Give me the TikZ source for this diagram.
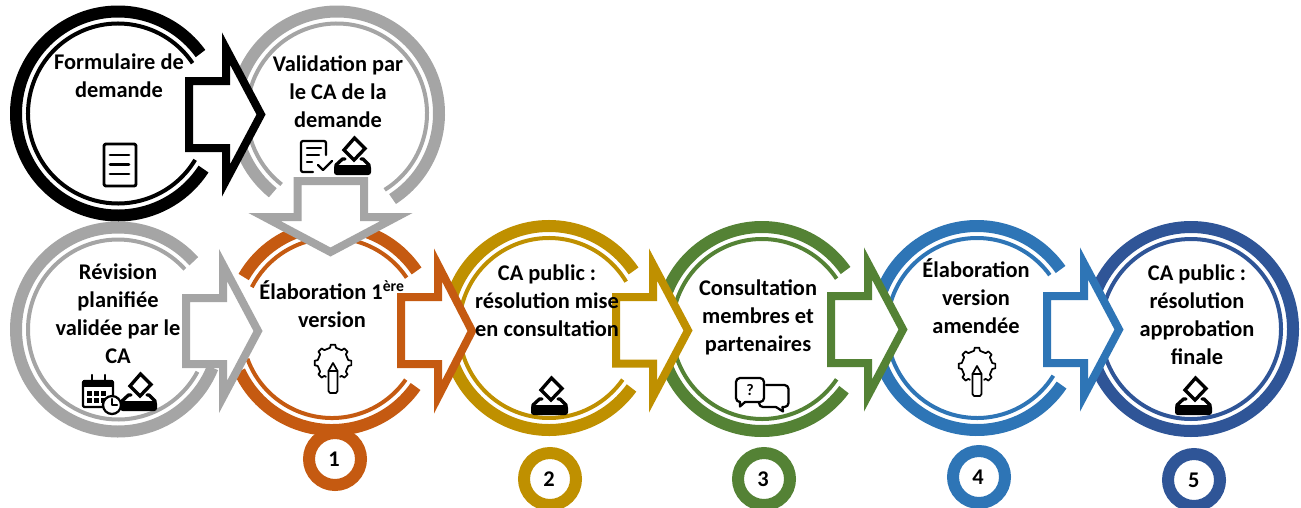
\documentclass[tikz,border=0pt]{standalone}
\usepackage{fontspec}
\setmainfont{Carlito}
\definecolor{cblack}{RGB}{0,0,0}
\definecolor{cgrey}{RGB}{165,165,165}
\definecolor{corange}{RGB}{197,90,17}
\definecolor{cgold}{RGB}{191,144,0}
\definecolor{cgreen}{RGB}{84,130,53}
\definecolor{cblue}{RGB}{46,117,182}
\definecolor{cnavy}{RGB}{47,85,151}
\tikzset{
  thickring/.style={line width=9pt},
  thinring/.style={line width=3pt},
  blockarrow/.style={line width=6pt,fill=white,miter limit=12},
  steplabel/.style={font=\fontsize{16.8}{21}\selectfont\bfseries,align=center,inner sep=0pt},
  numcircle/.style={circle,line width=9pt,minimum size=39pt,inner sep=0pt,fill=white,font=\fontsize{16.8}{21}\selectfont\bfseries},
  iconline/.style={line width=1.7pt,line join=round,line cap=round},
  ballot/.pic={
    \draw [iconline,line width=2.5pt,line join=miter,fill=white] (2.5,-37) -- (13,-26.5) -- (2,-15) -- (-8,-25) -- cycle;
    \draw [iconline,line width=2.5pt] (-16,-8) -- (-16,-10) -- (-9.5,-16) -- (-7,-16);
    \draw [iconline,line width=2.5pt] (9,-16) -- (11,-16) -- (17,-10) -- (17,-8);
    \fill [rounded corners=2pt] (-18,-10) rectangle (19,0);
  },
  gearpencil/.pic={
    \draw [iconline,line width=1.3pt] (-243:15.5) \foreach \a in {-225,-180,-135,-90,-45,0,45} { -- (\a-11:15.5) -- (\a-7:18.5) -- (\a+7:18.5) -- (\a+11:15.5) } -- (63:15.5);
    \draw [iconline,line width=1.3pt] (-4.5,8) -- (0,0) -- (4.5,8) -- (4.5,28) -- (3,30) -- (-3,30) -- (-4.5,28) -- cycle;
    \draw [iconline,line width=1.3pt] (-4.5,8) -- (4.5,8);
  }
}
\begin{document}
\begin{tikzpicture}[x=0.75pt,y=0.75pt,yscale=-1,xscale=1]
\useasboundingbox (0,0) rectangle (1301,507);

%Rings
\draw [thickring,cblack] (118,113.5) ++(-36:102) arc (-36:-327:102);
\draw [thinring,cblack] (118,113.5) ++(-34:90) arc (-34:-329:90);
\draw [thickring,cgrey] (337,113.5) ++(57:102) arc (57:-231:102);
\draw [thinring,cgrey] (337,113.5) ++(58:90) arc (58:-232:90);
\draw [thickring,cgrey] (118,329.5) ++(-42:102) arc (-42:-338:102);
\draw [thinring,cgrey] (118,329.5) ++(-42:90) arc (-42:-332:90);
\draw [thickring,corange] (332,328) ++(-34:102) arc (-34:-150:102);
\draw [thinring,corange] (332,328) ++(-34:90) arc (-34:-153:90);
\draw [thickring,corange] (332,328) ++(-205:102) arc (-205:-325:102);
\draw [thinring,corange] (332,328) ++(-200:90) arc (-200:-325:90);
\draw [thickring,cgold] (549,328) ++(-34:102) arc (-34:-324:102);
\draw [thinring,cgold] (549,328) ++(-31:90) arc (-31:-325:90);
\draw [thickring,cgreen] (762,329) ++(-35:102) arc (-35:-323.5:102);
\draw [thinring,cgreen] (762,329) ++(-34:90) arc (-34:-326:90);
\draw [thickring,cblue] (977,328) ++(-35:102) arc (-35:-326:102);
\draw [thinring,cblue] (977,328) ++(-36:90) arc (-36:-328:90);
\draw [thickring,cnavy] (1191,329) circle (102);
\draw [thinring,cnavy] (1191,329) circle (90);

%Block arrows
\draw [blockarrow,draw=cblack] (189,81) -- (226,81) -- (226,48.5) -- (261,114.5) -- (226,180.5) -- (226,148) -- (189,148) -- cycle;
\draw [blockarrow,draw=cgrey] (297.5,181) -- (364,181) -- (364,217) -- (396.5,217) -- (330.5,252) -- (264.5,217) -- (297.5,217) -- cycle;
\draw [blockarrow,draw=cgrey] (186,298) -- (223,298) -- (223,265) -- (258,331) -- (223,397) -- (223,364) -- (186,364) -- cycle;
\draw [blockarrow,draw=corange] (401,297) -- (438,297) -- (438,265) -- (472,331) -- (438,397) -- (438,364) -- (401,364) -- cycle;
\draw [blockarrow,draw=cgold] (616,297) -- (653,297) -- (653,264.5) -- (688,330.5) -- (653,396.5) -- (653,363.5) -- (616,363.5) -- cycle;
\draw [blockarrow,draw=cgreen] (831,296) -- (868,296) -- (868,263.5) -- (903,329.5) -- (868,395.5) -- (868,363) -- (831,363) -- cycle;
\draw [blockarrow,draw=cblue] (1047,296) -- (1084,296) -- (1084,263.5) -- (1119,329.5) -- (1084,395.5) -- (1084,363) -- (1047,363) -- cycle;

%Number circles
\node [numcircle,draw=corange,text width=12pt,align=left] (numa) at (335,459) {\hspace{1pt}1};
\node [numcircle,draw=cgold,text width=12pt,align=left] (numb) at (550,479) {\hspace{1pt}2};
\node [numcircle,draw=cgreen,text width=12pt,align=left] (numc) at (764,479) {\hspace{1pt}3};
\node [numcircle,draw=cblue,text width=12pt,align=left] (numd) at (979,477) {\hspace{1pt}4};
\node [numcircle,draw=cnavy,text width=12pt,align=left] (nume) at (1194,480) {\hspace{1.5pt}5};

% Text Node
\node [steplabel] (formulaire) at (119,76) {Formulaire de\\demande};
\node [steplabel] (validation) at (338,92) {Validation par\\le CA de la\\demande};
\node [steplabel] (revision) at (118,313.5) {Révision\\planifiée\\validée par le\\CA};
\node [steplabel] (elabun) at (332,304) {Élaboration 1\textsuperscript{ère}\\version};
\node [steplabel] (capublic) at (547,301) {CA public :\\résolution mise\\en consultation};
\node [steplabel] (consultation) at (758,317) {Consultation\\membres et\\partenaires};
\node [steplabel] (elabdeux) at (976,296) {Élaboration\\version\\amendée};
\node [steplabel] (cafinal) at (1197,315) {CA public :\\résolution\\approbation\\finale};

%Icons
\draw [iconline,line width=2.2pt,rounded corners=1.5pt] (104,144) rectangle (136,186);
\draw [iconline,line width=2.2pt] (110,155) -- (129,155) (110,164.5) -- (129,164.5) (110,174) -- (129,174);

\draw [iconline,rounded corners=1.5pt] (326,155) -- (326,141) -- (301,141) -- (301,172) -- (313,172);
\draw [iconline] (307,148) -- (321,148) (307,155) -- (319,155) (307,162) -- (312,162);
\draw [iconline] (318,165) -- (323,170) -- (332,161);
\pic [transform shape] at (352,175) {ballot};

\draw [iconline,rounded corners=1pt] (83,381) rectangle (113,407);
\fill (83,380) rectangle (113,387);
\draw [iconline] (92,375) -- (92,382) (105,375) -- (105,382);
\foreach \gx in {86.5,93.5,100.5} {
  \foreach \gy in {391,398} {
    \fill (\gx,\gy) rectangle ++(5,5);
  }
}
\pic [transform shape] at (138,411) {ballot};
\draw [iconline,fill=white] (112,405) circle (9);
\draw [iconline] (112,399) -- (112,405) -- (117,405);

\pic [transform shape] at (333,363) {gearpencil};
\pic [transform shape] at (549,415) {ballot};

\draw [iconline,rounded corners=3pt] (745,402) -- (764,402) -- (764,378) -- (736,378) -- (736,402) -- (740,402);
\draw [iconline] (740,402) -- (740,406.5) -- (745,402);
\node [font=\fontsize{12}{12}\selectfont\bfseries,inner sep=0pt] (question) at (750,390) {?};
\draw [iconline,rounded corners=3pt] (766,385) -- (788.5,385) -- (788.5,407) -- (782.5,407);
\draw [iconline] (782.5,407) -- (783,411.5) -- (776,407);
\draw [iconline,rounded corners=3pt] (776,407) -- (759,407) -- (759,402);

\pic [transform shape] at (977,366) {gearpencil};
\pic [transform shape] at (1193,415) {ballot};
\end{tikzpicture}
\end{document}
